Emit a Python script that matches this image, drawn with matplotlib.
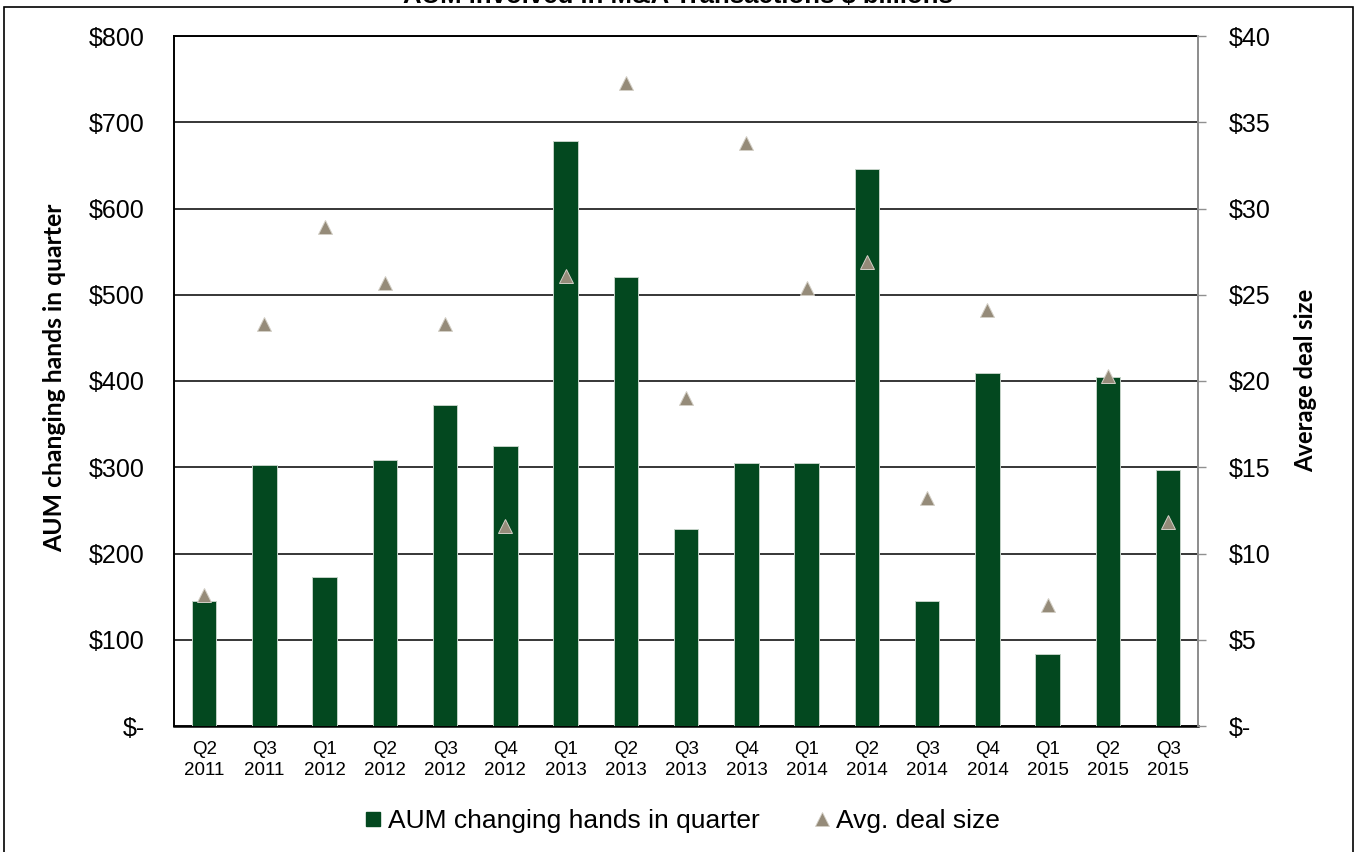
import matplotlib
matplotlib.use("Agg")
import matplotlib.pyplot as plt
from matplotlib.lines import Line2D
from matplotlib.patches import Rectangle
import numpy as np

quarters = ["Q2\n2011", "Q3\n2011", "Q1\n2012", "Q2\n2012", "Q3\n2012", "Q4\n2012",
            "Q1\n2013", "Q2\n2013", "Q3\n2013", "Q4\n2013", "Q1\n2014", "Q2\n2014",
            "Q3\n2014", "Q4\n2014", "Q1\n2015", "Q2\n2015", "Q3\n2015"]
aum_changing_hands = [145, 303, 173, 308, 372, 325, 678, 521, 228, 305, 305, 646,
                      145, 409, 83, 405, 297]
avg_deal_size = [7.6, 23.3, 28.9, 25.7, 23.3, 11.6, 26.1, 37.3, 19.0, 33.8, 25.4, 26.9,
                 13.2, 24.1, 7.0, 20.3, 11.8]
left_ticks = [0, 100, 200, 300, 400, 500, 600, 700, 800]
right_ticks = [0, 5, 10, 15, 20, 25, 30, 35, 40]

title = "AUM involved in M&A Transactions \\$ billions"
left_label = "AUM changing hands in quarter"
right_label = "Average deal size"
bar_name = "AUM changing hands in quarter"
tri_name = "Avg. deal size"

BAR = "#03481f"
TRI = "#958b79"
W, H = 1356, 852

plt.rcParams['font.family'] = ['Liberation Sans', 'DejaVu Sans']
fig = plt.figure(figsize=(W / 100, H / 100), dpi=100)
ax = fig.add_axes([174 / W, 1 - 726 / H, (1198.3 - 174) / W, (726 - 36) / H])

x = np.arange(len(quarters))
ax.bar(x, aum_changing_hands, width=0.405, color=BAR, edgecolor="#c4d2c7",
       linewidth=0.7, zorder=3)
ax.set_xlim(-0.5, len(quarters) - 0.5)
ax.set_ylim(0, 800)
ax.set_yticks(left_ticks)
ax.set_yticklabels(["\\$-" if v == 0 else "\\$%d" % v for v in left_ticks], fontsize=18)
ax.set_xticks(x)
ax.set_xticklabels(quarters, fontsize=13.5, linespacing=1.32)
ax.tick_params(axis='y', length=0, pad=21)
ax.tick_params(axis='x', length=0, pad=11)
ax.grid(axis='y', color='black', linewidth=1.1, zorder=1)
ax.set_axisbelow(True)
for s in ['left', 'bottom', 'top']:
    ax.spines[s].set_color('black')
ax.spines['left'].set_linewidth(1.4)
ax.spines['bottom'].set_linewidth(1.8)
ax.spines['top'].set_linewidth(1.4)
ax.spines['right'].set_visible(False)

ax2 = ax.twinx()
ax2.plot(x, avg_deal_size, linestyle='none', marker='^', markersize=10.5,
         markerfacecolor=TRI, markeredgecolor="#d3cfc6", markeredgewidth=0.7, zorder=4)
ax2.set_ylim(0, 40)
ax2.set_yticks(right_ticks)
ax2.set_yticklabels(["\\$-" if v == 0 else "\\$%d" % v for v in right_ticks], fontsize=18)
ax2.tick_params(axis='y', length=6, width=1, color='#909090', pad=16)
for s in ['left', 'bottom', 'top']:
    ax2.spines[s].set_visible(False)
ax2.spines['right'].set_color('#8c8c8c')
ax2.spines['right'].set_linewidth(1.4)

# axis titles (fit lengths)
lab_font = ['Lato', 'DejaVu Sans']
t1 = fig.text(55 / W, 1 - 378 / H, left_label, rotation=90, ha='center', va='center',
              fontsize=16, fontweight='bold', family=lab_font)
t2 = fig.text(1306 / W, 1 - 380.5 / H, right_label, rotation=90, ha='center', va='center',
              fontsize=16, fontweight='bold', family=lab_font)
fig.canvas.draw()
r = fig.canvas.get_renderer()
for t, target in ((t1, 350.0), (t2, 185.0)):
    h = t.get_window_extent(r).height
    t.set_fontsize(16 * target / h)

# title (partially cut off at top, as in the source image)
fig.text(678 / W, 1 - 3 / H, title, ha='center', va='baseline', fontsize=18.5,
         fontweight='bold')

# legend
handles = [Line2D([], [], linestyle='none', marker='s', markersize=9.5,
                  markerfacecolor=BAR, markeredgecolor=BAR),
           Line2D([], [], linestyle='none', marker='^', markersize=9.5,
                  markerfacecolor=TRI, markeredgecolor="#d3cfc6", markeredgewidth=0.6)]
fig.legend(handles, [bar_name, tri_name], loc='center', ncol=2, frameon=False,
           bbox_to_anchor=(682 / W, 1 - 821 / H), fontsize=19, handlelength=0.7,
           handletextpad=0.2, columnspacing=2.0)

# outer border
fig.patches.append(Rectangle((3.5 / W, -0.05), (1352.7 - 3.5) / W, 1.05 - 7.3 / H,
                             transform=fig.transFigure, fill=False, edgecolor='black',
                             linewidth=1.2, zorder=10))

fig.savefig("out.png", dpi=100)
